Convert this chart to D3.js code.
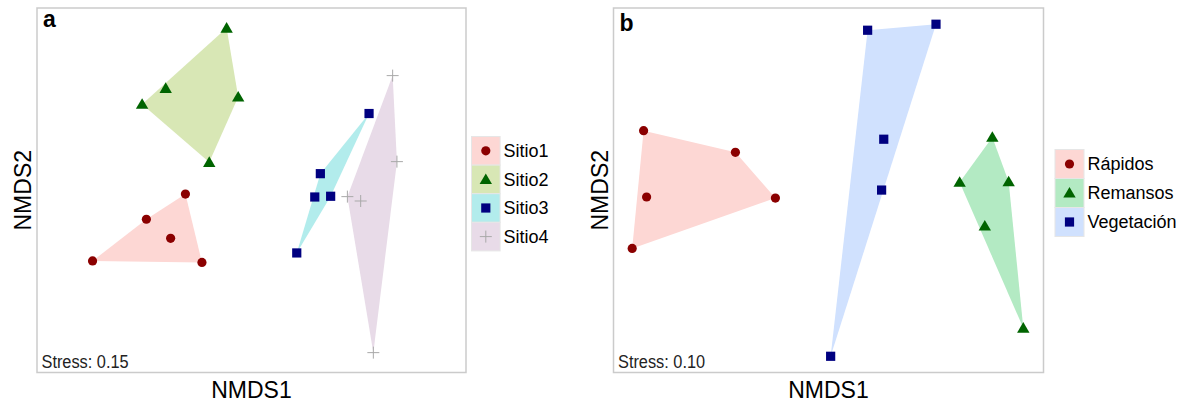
<!DOCTYPE html>
<html>
<head>
<meta charset="utf-8">
<script src="https://cdn.jsdelivr.net/npm/d3@7"></script>
<style>
  body { margin: 0; background: #fff; }
  svg { display: block; font-family: "Liberation Sans", Arial, sans-serif; }
</style>
</head>
<body>
<div id="chart"></div>
<script>
// panel a: sites
const siteNames = ['Sitio1', 'Sitio2', 'Sitio3', 'Sitio4'];
const sitio1 = [[-0.741, -0.388], [-0.490, -0.159], [-0.377, -0.264], [-0.308, -0.021], [-0.231, -0.396]];
const sitio2 = [[-0.116, 0.890], [-0.400, 0.559], [-0.510, 0.472], [-0.062, 0.512], [-0.197, 0.153]];
const sitio3 = [[0.548, 0.421], [0.321, 0.091], [0.295, -0.037], [0.369, -0.033], [0.211, -0.344]];
const sitio4 = [[0.658, 0.629], [0.678, 0.157], [0.447, -0.035], [0.509, -0.059], [0.568, -0.891]];

// panel b: habitats
const habitatNames = ['Rápidos', 'Remansos', 'Vegetación'];
const rapidos = [[-0.860, 0.327], [-0.433, 0.208], [-0.846, -0.037], [-0.247, -0.043], [-0.913, -0.319]];
const remansos = [[0.762, 0.291], [0.610, 0.044], [0.838, 0.047], [0.727, -0.196], [0.906, -0.756]];
const vegetacion = [[0.182, 0.878], [0.500, 0.911], [0.257, 0.280], [0.247, 0.001], [0.010, -0.911]];

const stressA = '0.15';
const stressB = '0.10';

const W = 1185, H = 402;
const svg = d3.select('#chart').append('svg')
  .attr('width', W)
  .attr('height', H);

function marker (g, shape, color) {
  if (shape === 'circle') {
    g.append('circle').attr('r', 4.6).attr('fill', color);
  } else if (shape === 'triangle') {
    g.append('path').attr('d', 'M0,-6 L6.2,4.6 L-6.2,4.6 Z').attr('fill', color);
  } else if (shape === 'square') {
    g.append('rect').attr('x', -4.6).attr('y', -4.6).attr('width', 9.2).attr('height', 9.2).attr('fill', color);
  } else {
    g.append('path').attr('d', 'M-6,0 H6 M0,-6 V6')
      .attr('stroke', color).attr('stroke-width', 1).attr('fill', 'none');
  }
}

function drawPanel (opt) {
  const x = d3.scaleLinear().domain([-1, 1]).range([opt.left, opt.right]);
  const y = d3.scaleLinear().domain([-1, 1]).range([opt.bottom, opt.top]);
  const g = svg.append('g');

  // hulls
  opt.groups.forEach((grp) => {
    const pts = grp.data.map((d) => [x(d[0]), y(d[1])]);
    const hull = d3.polygonHull(pts);
    g.append('path')
      .attr('d', 'M' + hull.join('L') + 'Z')
      .attr('fill', grp.fill);
  });

  // points
  opt.groups.forEach((grp) => {
    grp.data.forEach((d) => {
      const m = g.append('g').attr('transform', 'translate(' + x(d[0]) + ',' + y(d[1]) + ')');
      marker(m, grp.shape, grp.color);
    });
  });

  // frame
  g.append('rect')
    .attr('x', opt.left)
    .attr('y', opt.top)
    .attr('width', opt.right - opt.left)
    .attr('height', opt.bottom - opt.top)
    .attr('fill', 'none')
    .attr('stroke', '#cbcbcb')
    .attr('stroke-width', 1.5);

  // panel letter
  g.append('text')
    .attr('x', opt.left + 6)
    .attr('y', opt.letterY)
    .attr('font-size', 23)
    .attr('font-weight', 'bold')
    .text(opt.letter);

  // stress
  g.append('text')
    .attr('transform', 'translate(' + (opt.left + 4.5) + ',' + (opt.bottom - 4.5) + ') scale(0.86,1)')
    .attr('font-size', 19)
    .attr('fill', '#222')
    .text('Stress: ' + opt.stress);

  // axis titles
  g.append('text')
    .attr('x', (opt.left + opt.right) / 2)
    .attr('y', 398)
    .attr('text-anchor', 'middle')
    .attr('font-size', 23)
    .text('NMDS1');

  g.append('text')
    .attr('transform', 'translate(' + opt.yTitleX + ',' + ((opt.top + opt.bottom) / 2) + ') rotate(-90)')
    .attr('text-anchor', 'middle')
    .attr('font-size', 23)
    .text('NMDS2');

  // legend
  const leg = g.append('g').attr('transform', 'translate(' + opt.legX + ',' + opt.legY + ')');
  const key = opt.keySize;
  opt.groups.forEach((grp, i) => {
    leg.append('rect')
      .attr('x', 0)
      .attr('y', i * key)
      .attr('width', key)
      .attr('height', key)
      .attr('fill', grp.fill)
      .attr('stroke', '#e6e6e6')
      .attr('stroke-width', 1);
    const m = leg.append('g').attr('transform', 'translate(' + (key / 2) + ',' + (i * key + key / 2) + ')');
    marker(m, grp.shape, grp.color);
    leg.append('text')
      .attr('x', key + 3.5)
      .attr('y', i * key + key / 2)
      .attr('dy', '0.36em')
      .attr('font-size', 18)
      .text(grp.name);
  });
}

drawPanel({
  left: 37, right: 466, top: 8, bottom: 372.5,
  letter: 'a', letterY: 27, stress: stressA, yTitleX: 30.5,
  legX: 471.5, legY: 136.5, keySize: 28.6,
  groups: [
    { name: siteNames[0], data: sitio1, fill: '#fdd7d4', color: '#8b0000', shape: 'circle' },
    { name: siteNames[1], data: sitio2, fill: '#d8e7b5', color: '#006400', shape: 'triangle' },
    { name: siteNames[2], data: sitio3, fill: '#b2ecec', color: '#000080', shape: 'square' },
    { name: siteNames[3], data: sitio4, fill: '#e8dbe8', color: '#a9a9a9', shape: 'plus' }
  ]
});

drawPanel({
  left: 613.5, right: 1043.5, top: 8, bottom: 372.5,
  letter: 'b', letterY: 30.5, stress: stressB, yTitleX: 607.5,
  legX: 1055, legY: 149.5, keySize: 29,
  groups: [
    { name: habitatNames[0], data: rapidos, fill: '#fdd7d4', color: '#8b0000', shape: 'circle' },
    { name: habitatNames[1], data: remansos, fill: '#b3eac3', color: '#006400', shape: 'triangle' },
    { name: habitatNames[2], data: vegetacion, fill: '#d0e1fe', color: '#000080', shape: 'square' }
  ]
});
</script>
</body>
</html>
